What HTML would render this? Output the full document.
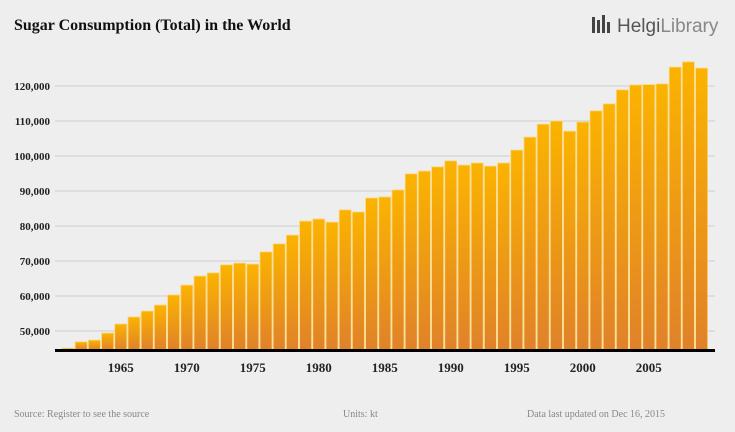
<!DOCTYPE html>
<html><head><meta charset="utf-8"><style>
body{margin:0;background:#eeeeee;}
svg{display:block;font-family:"Liberation Serif",serif;}
</style></head><body>
<svg width="735" height="432">
<defs><linearGradient id="g" x1="0" y1="0" x2="0" y2="1"><stop offset="0" stop-color="#fbb300"/><stop offset="1" stop-color="#e0812a"/></linearGradient></defs>
<rect width="735" height="432" fill="#eeeeee"/>
<text x="14" y="30" font-size="16" font-weight="bold" fill="#111">Sugar Consumption (Total) in the World</text>
<g>
<rect x="592" y="17" width="3" height="16" fill="#444"/><rect x="597" y="20" width="3" height="13" fill="#444"/><rect x="602" y="15" width="3" height="18" fill="#444"/><rect x="607" y="22" width="3" height="11" fill="#444"/>
<text x="617" y="32" font-family="Liberation Sans,sans-serif" font-size="19" fill="#555">Helgi<tspan fill="#888">Library</tspan></text>
</g>
<g id="grid"></g><g id="bars"></g><g id="ylab"></g><g id="xlab"></g>
<line x1="55" y1="350.5" x2="715" y2="350.5" stroke="#000" stroke-width="3"/>
<text x="14" y="417" font-size="10" fill="#888">Source: Register to see the source</text>
<text x="343" y="417" font-size="10" fill="#888">Units: kt</text>
<text x="527" y="417" font-size="10" fill="#888">Data last updated on Dec 16, 2015</text>
</svg>
<script>
const years=[];for(let y=1961;y<=2009;y++)years.push(y);
const values=[45100,46900,47400,49400,52000,54000,55700,57400,60300,63100,65700,66600,68900,69400,69100,72600,74900,77400,81400,82000,81100,84600,84000,88000,88300,90300,94900,95700,96900,98600,97400,98000,97100,98000,101700,105400,109100,110000,107100,109700,112900,114900,118900,120300,120400,120600,125400,126900,125100];
const yTicks=[50000,60000,70000,80000,90000,100000,110000,120000];
const xTicks=[1965,1970,1975,1980,1985,1990,1995,2000,2005];
const NS="http://www.w3.org/2000/svg";
const yS=v=>331-(v-50000)/10000*35;
const xS=yr=>68+(yr-1961)*13.2;
const grid=document.getElementById('grid'),bars=document.getElementById('bars'),yl=document.getElementById('ylab'),xl=document.getElementById('xlab');
yTicks.forEach(t=>{
 const l=document.createElementNS(NS,'line');
 l.setAttribute('x1',55);l.setAttribute('x2',715);l.setAttribute('y1',yS(t));l.setAttribute('y2',yS(t));
 l.setAttribute('stroke','#cfcfcf');l.setAttribute('stroke-width','1');
 
 
 grid.appendChild(l);
 const tx=document.createElementNS(NS,'text');
 tx.setAttribute('x',50);tx.setAttribute('y',yS(t)+4);tx.setAttribute('text-anchor','end');
 tx.setAttribute('font-size','11');tx.setAttribute('font-weight','bold');tx.setAttribute('fill','#222');
 tx.textContent=t.toLocaleString('en-US');
 
 
 yl.appendChild(tx);
});
years.forEach((yr,i)=>{
 const r=document.createElementNS(NS,'rect');
 const top=yS(values[i]);
 r.setAttribute('x',xS(yr)-6);r.setAttribute('width',12);r.setAttribute('y',top);r.setAttribute('height',350-top);
 r.setAttribute('fill','url(#g)');r.setAttribute('stroke','#fbd77a');r.setAttribute('stroke-width','0.8');
 
 
 bars.appendChild(r);
});
xTicks.forEach(t=>{
 const tx=document.createElementNS(NS,'text');
 tx.setAttribute('x',xS(t));tx.setAttribute('y',372);tx.setAttribute('text-anchor','middle');
 tx.setAttribute('font-size','13');tx.setAttribute('font-weight','bold');tx.setAttribute('fill','#222');
 tx.textContent=t;
 
 
 xl.appendChild(tx);
});
</script>
</body></html>
